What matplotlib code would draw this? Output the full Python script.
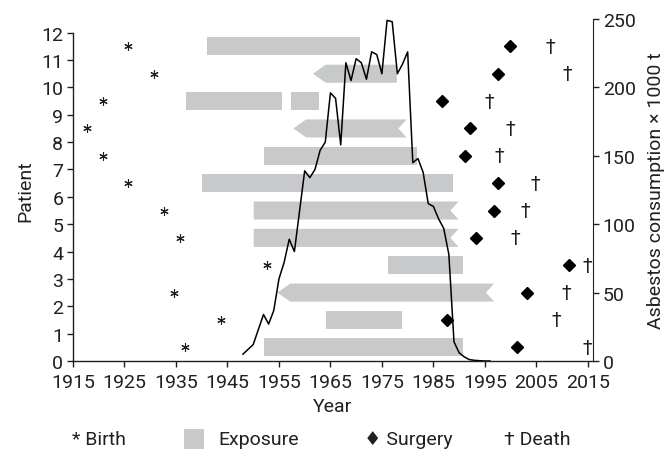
import matplotlib
matplotlib.use("Agg")
import matplotlib.pyplot as plt
from matplotlib.patches import Polygon, Rectangle

plt.rcParams['font.family'] = ['Roboto', 'DejaVu Sans']

# ---------------- data ----------------
patients = [12, 11, 10, 9, 8, 7, 6, 5, 4, 3, 2, 1]
birth_year = [1925.7, 1930.7, 1920.8, 1917.7, 1920.8, 1925.7, 1932.7, 1935.7, 1952.7, 1934.7, 1943.7, 1936.7]
surgery_year = [1999.8, 1997.6, 1986.6, 1992.1, 1991.2, 1997.6, 1996.7, 1993.2, 2011.3, 2003.2, 1987.7, 2001.2]
death_year = [2007.8, 2011.0, 1995.8, 1999.9, 1997.8, 2004.8, 2002.8, 2000.9, 2014.8, 2010.8, 2008.8, 2014.8]

# exposure periods: patient, start, end, open start (arrow), ongoing end (notch)
exp_patient = [12, 11, 10, 10, 9, 8, 7, 6, 5, 4, 3, 2, 1]
exp_start = [1941.1, 1961.6, 1937.0, 1957.3, 1957.8, 1952.1, 1940.1, 1950.1, 1950.1, 1976.1, 1954.7, 1964.1, 1952.1]
exp_end = [1970.8, 1977.9, 1955.5, 1962.8, 1979.8, 1981.8, 1988.9, 1989.9, 1989.9, 1990.8, 1996.8, 1978.9, 1990.8]
exp_open_start = [False, True, False, False, True, False, False, False, False, False, True, False, False]
exp_open_end = [False, False, False, False, True, False, False, True, True, False, True, False, False]

asb_years = [1948, 1950, 1952, 1953, 1954, 1955, 1956, 1957, 1958, 1960, 1961, 1962, 1963, 1964,
             1965, 1966, 1967, 1968, 1969, 1970, 1971, 1972, 1973, 1974, 1975, 1976, 1977, 1978,
             1979, 1980, 1981, 1982, 1983, 1984, 1985, 1986, 1987, 1988, 1989, 1990, 1991, 1992,
             1993, 1994, 1995, 1996]
asb_values = [5, 12, 34, 27, 37, 60, 72, 89, 80, 139, 134, 140, 154, 160,
              196, 192, 158, 218, 205, 221, 218, 206, 226, 224, 210, 249, 248, 210,
              217, 226, 145, 148, 138, 115, 113, 104, 97, 78, 14, 6, 3, 1,
              0.5, 0.2, 0, 0]

x_ticks = [1915, 1925, 1935, 1945, 1955, 1965, 1975, 1985, 1995, 2005, 2015]
y_ticks = list(range(0, 13))
y2_ticks = [0, 50, 100, 150, 200, 250]

# ---------------- figure ----------------
W, H = 670, 452
fig = plt.figure(figsize=(W / 100, H / 100), dpi=100)
ax = fig.add_axes([73 / W, 1 - 362 / H, (593 - 73) / W, (362 - 20) / H])

txt = '#231f20'
bar_c = '#c8c9cb'
fs = 14

bar_h = 0.66
arrow_len = 2.5
notch_len = 1.6
for p, s, e, os_, oe in zip(exp_patient, exp_start, exp_end, exp_open_start, exp_open_end):
    c = p - 0.5
    top, bot = c + bar_h / 2, c - bar_h / 2
    verts = []
    if os_:
        verts += [(s, c), (s + arrow_len, top)]
    else:
        verts += [(s, bot), (s, top)]
    if oe:
        verts += [(e, top), (e - notch_len, c), (e, bot)]
    else:
        verts += [(e, top), (e, bot)]
    if os_:
        verts += [(s + arrow_len, bot)]
    ax.add_patch(Polygon(verts, closed=True, facecolor=bar_c, edgecolor='none', zorder=1))

rows = [p - 0.5 for p in patients]
ax.plot(birth_year, rows, linestyle='none', marker=(6, 2, 0), markersize=6,
        markeredgewidth=0.8, color=txt, zorder=3)
ax.plot(surgery_year, rows, linestyle='none', marker='D', markersize=6.5,
        color='black', zorder=3)
for x, y in zip(death_year, rows):
    ax.text(x, y, '†', ha='center', va='center', fontsize=14, color=txt,
            zorder=3, family=['DejaVu Sans'])

ax.set_xlim(1915, 2016)
ax.set_ylim(0, 12.5)
ax.set_xticks(x_ticks)
ax.set_yticks(y_ticks)
ax.spines['top'].set_visible(False)
ax.spines['right'].set_visible(False)
ax.spines['left'].set_bounds(0, 12)
for sp in ax.spines.values():
    sp.set_color(txt)
    sp.set_linewidth(1.0)
ax.tick_params(direction='out', length=4, width=1.0, colors=txt, labelsize=fs)
ax.tick_params(axis='x', pad=5)
ax.tick_params(axis='y', pad=3)
ax.set_ylabel('Patient', fontsize=fs, color=txt, labelpad=5)
ax.set_xlabel('Year', fontsize=fs, color=txt, labelpad=4)

ax2 = ax.twinx()
ax2.plot(asb_years, asb_values, color='black', linewidth=1.1, zorder=2)
ax2.set_ylim(0, 250)
ax2.set_yticks(y2_ticks)
ax2.spines['top'].set_visible(False)
ax2.spines['left'].set_visible(False)
ax2.spines['bottom'].set_visible(False)
ax2.spines['right'].set_color(txt)
ax2.tick_params(direction='out', length=4, width=1.0, colors=txt, labelsize=fs, pad=3)
ax2.set_ylabel('Asbestos consumption × 1000 t', fontsize=fs, color=txt, labelpad=8)
ax2.set_xlim(1915, 2016)

# ---------------- legend ----------------
ly = 1 - 440 / H
fig.text(72 / W, ly, '* Birth', fontsize=fs, color=txt, va='center', ha='left')
fig.patches.append(Rectangle((184 / W, 1 - 450 / H), 20 / W, 20 / H,
                             transform=fig.transFigure, facecolor=bar_c, edgecolor='none'))
fig.text(218 / W, ly, 'Exposure', fontsize=fs, color=txt, va='center', ha='left')
fig.text(364 / W, ly, '♦ Surgery', fontsize=fs, color=txt, va='center', ha='left')
fig.text(504 / W, ly, '† Death', fontsize=fs, color=txt, va='center', ha='left')

fig.savefig('out.png', dpi=100)
